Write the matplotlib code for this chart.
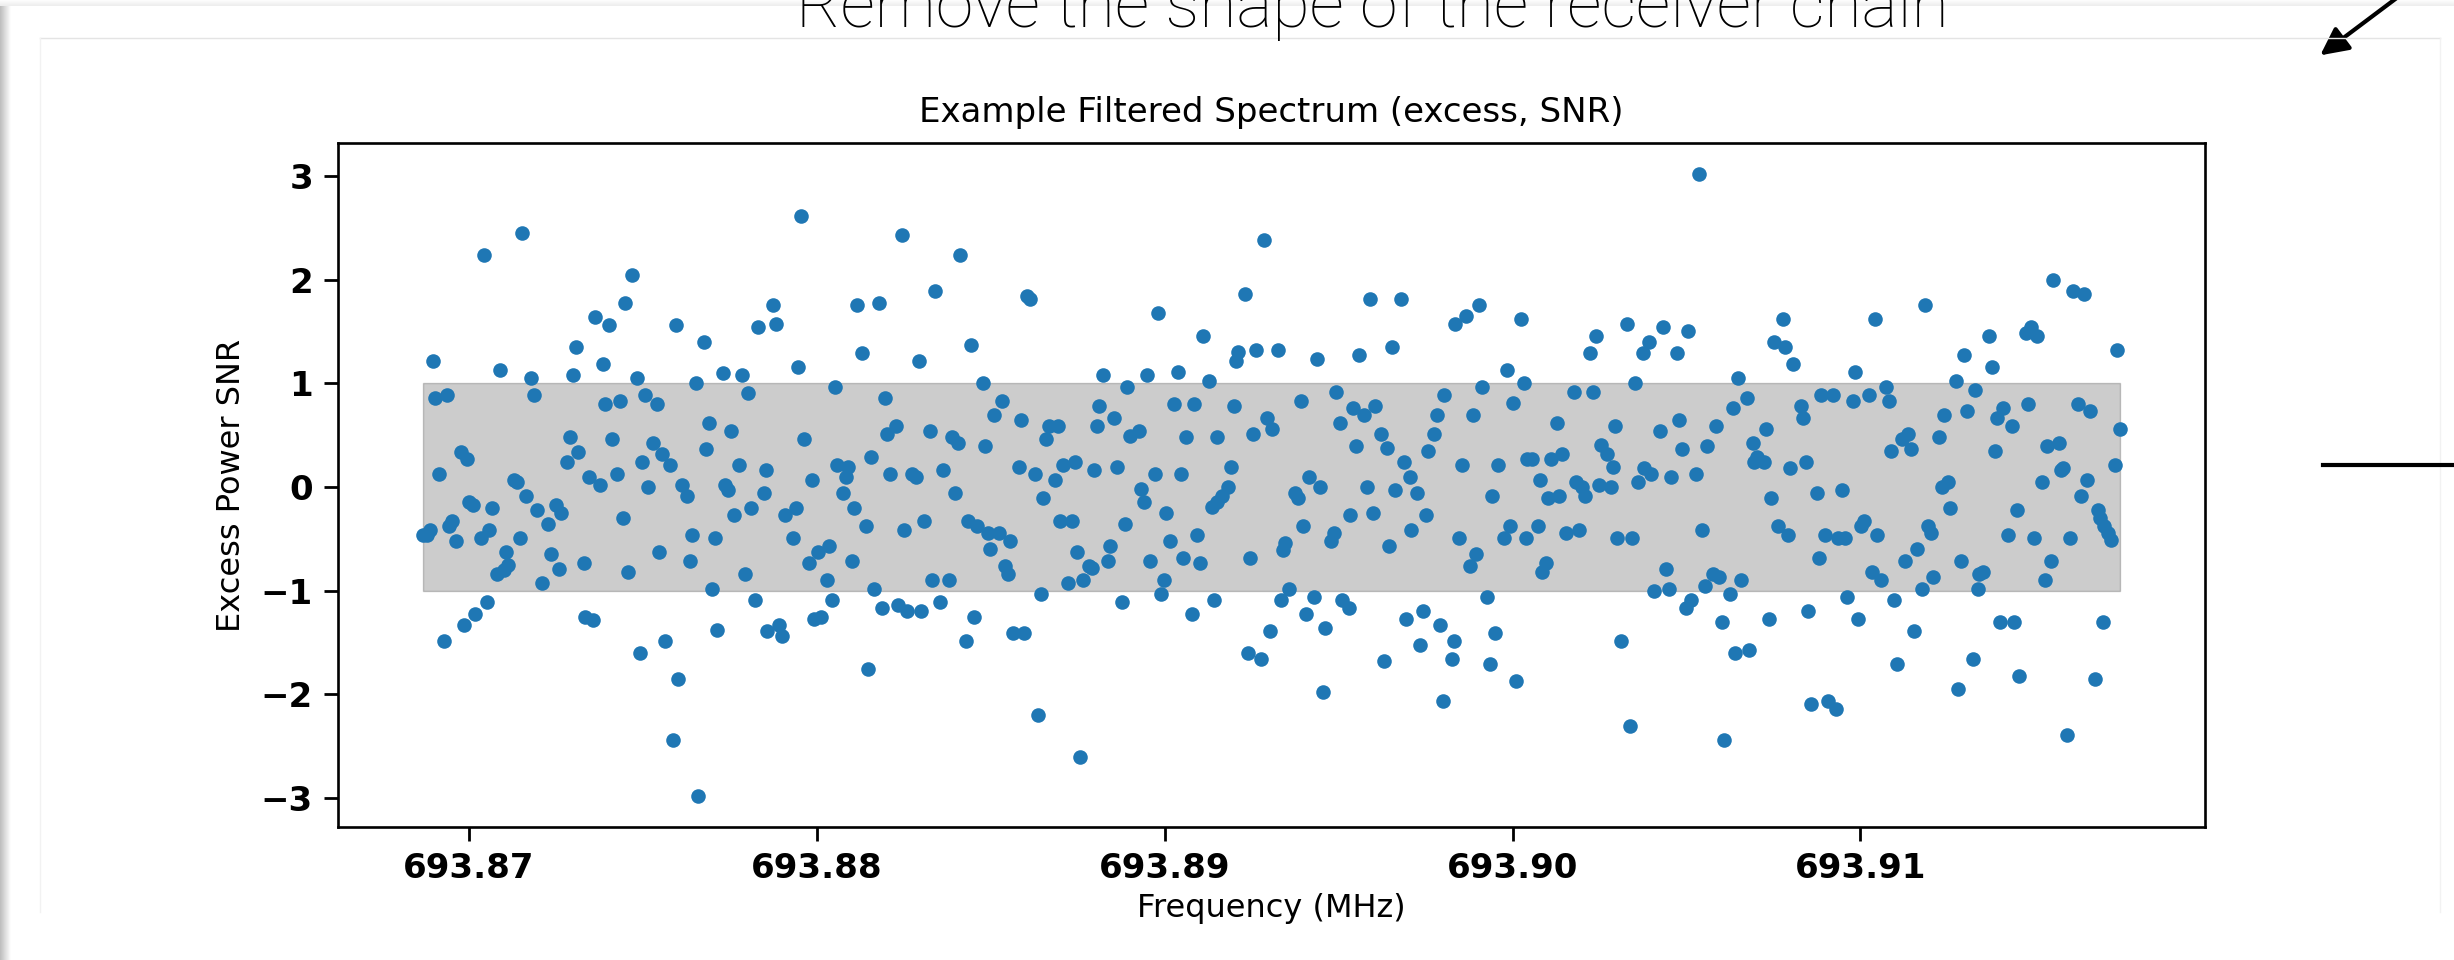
import numpy as np
import matplotlib
matplotlib.use("Agg")
import matplotlib.pyplot as plt
from matplotlib.patches import FancyArrowPatch
from matplotlib.lines import Line2D

# Filtered spectrum: frequency offset (kHz above 693.87 MHz) and excess-power SNR,
# split into five frequency segments
freq_a = [1.53, 0.42, 4.67, 4.49, 3.62, 4.01, 5.94, 8.31, 3.06, 6.74, -1.03, 3.86, 0.90, 2.98,
          1.78, 7.30, 7.86, 4.82, 6.51, 1.86, -0.97, -0.64, 5.05, 3.92, 4.34, 5.39, 8.01, 6.90,
          7.54, 2.89, 4.10, 3.12, 6.82, -0.23, -0.06, 5.30, 5.54, 5.78, 2.82, 4.97, 7.77, -0.88,
          1.29, 1.38, 3.45, 3.77, 4.25, 5.15, 6.11, 6.27, 7.37, 7.45, 1.63, 0.00, 0.10, 0.65,
          1.96, 2.50, 2.65, 2.27, 4.41, 7.62, 8.10, -0.48, -0.57, -1.12, -1.33, -1.20, 0.58, -0.39,
          0.34, 1.45, 6.41, 7.06, 1.05, 2.34, 5.46, 6.35, 3.30, 1.13, 1.00, 0.80, 2.58, 4.58,
          7.94, 2.10, 6.98, 0.50, 0.18, -0.15, 3.34, 3.56, -0.71, 4.91, 5.63, 7.14, 6.02, 5.87,
          6.59]
snr_a = [2.45, 2.24, 2.05, 1.78, 1.64, 1.56, 1.56, 1.54, 1.35, 1.40, 1.22, 1.19, 1.13, 1.08,
         1.05, 1.10, 1.08, 1.05, 1.00, 0.89, 0.86, 0.89, 0.89, 0.80, 0.83, 0.80, 0.91, 0.62,
         0.54, 0.48, 0.46, 0.34, 0.37, 0.34, 0.27, 0.43, 0.32, 0.21, 0.24, 0.24, 0.21, 0.13,
         0.07, 0.05, 0.10, 0.02, 0.13, 0.00, 0.02, -0.09, 0.02, -0.03, -0.09, -0.14, -0.17, -0.20,
         -0.22, -0.17, -0.25, -0.36, -0.30, -0.27, -0.20, -0.33, -0.38, -0.41, -0.46, -0.46, -0.41, -0.52,
         -0.49, -0.49, -0.46, -0.49, -0.63, -0.65, -0.63, -0.71, -0.73, -0.75, -0.80, -0.84, -0.79, -0.82,
         -0.84, -0.93, -0.98, -1.11, -1.22, -1.33, -1.25, -1.28, -1.49, -1.60, -1.49, -1.38, -1.85, -2.44,
         -2.98]

freq_b = [9.55, 12.44, 14.12, 13.40, 8.74, 8.82, 11.14, 11.79, 16.03, 16.13, 11.31, 14.43, 12.93,
          9.47, 10.52, 14.77, 18.22, 11.96, 15.33, 15.08, 15.88, 18.10, 18.05, 12.28, 12.02, 13.24,
          9.63, 13.88, 14.07, 14.84, 16.68, 16.93, 16.59, 11.55, 10.59, 10.90, 10.83, 8.53, 9.87,
          12.11, 12.73, 12.85, 13.63, 15.80, 16.27, 17.07, 17.42, 16.84, 17.96, 8.47, 10.76, 13.96,
          16.51, 9.08, 9.40, 11.07, 11.40, 12.50, 13.07, 14.33, 14.59, 14.93, 15.23, 15.56, 14.98,
          16.99, 17.33, 9.30, 10.35, 10.04, 9.78, 11.00, 10.28, 17.49, 17.81, 17.90, 15.41, 15.48,
          13.31, 13.80, 17.23, 17.65, 11.64, 16.45, 10.43, 11.88, 12.34, 12.58, 13.00, 13.54, 14.52,
          9.92, 10.12, 8.57, 8.91, 8.99, 14.29, 15.65, 15.96, 11.48, 16.37, 17.57, 8.22]
snr_b = [2.62, 2.43, 2.24, 1.89, 1.76, 1.57, 1.76, 1.78, 1.84, 1.81, 1.29, 1.37, 1.22,
         1.16, 0.97, 1.00, 1.08, 0.86, 0.83, 0.70, 0.65, 0.78, 0.59, 0.59, 0.51, 0.54,
         0.46, 0.48, 0.43, 0.40, 0.59, 0.59, 0.46, 0.29, 0.21, 0.19, 0.10, 0.16, 0.07,
         0.13, 0.13, 0.10, 0.16, 0.19, 0.13, 0.21, 0.24, 0.07, 0.16, -0.06, -0.06, -0.06,
         -0.11, -0.27, -0.20, -0.20, -0.38, -0.41, -0.33, -0.33, -0.38, -0.44, -0.44, -0.52, -0.60,
         -0.33, -0.33, -0.49, -0.57, -0.63, -0.73, -0.71, -0.90, -0.63, -0.76, -0.78, -0.76, -0.84,
         -0.90, -0.90, -0.93, -0.90, -0.98, -1.03, -1.09, -1.17, -1.14, -1.20, -1.20, -1.11, -1.25,
         -1.27, -1.25, -1.39, -1.33, -1.44, -1.49, -1.41, -1.41, -1.76, -2.20, -2.60, -1.09]

freq_c = [22.86, 22.30, 19.81, 21.09, 25.89, 26.79, 22.12, 22.05, 22.62, 23.25, 24.38, 25.58, 26.54,
          19.49, 20.38, 21.26, 18.92, 24.93, 23.91, 28.04, 20.28, 20.85, 21.98, 25.40, 25.72, 26.06,
          27.83, 18.53, 22.94, 23.09, 25.03, 27.74, 19.00, 19.25, 20.61, 21.49, 22.53, 26.21, 26.39,
          25.50, 27.58, 26.87, 27.04, 18.63, 19.73, 20.46, 21.90, 24.14, 24.47, 19.33, 19.41, 21.81,
          21.65, 21.36, 21.51, 23.74, 23.84, 25.83, 26.62, 27.26, 20.05, 25.98, 25.34, 27.50, 18.85,
          23.99, 27.09, 20.94, 24.86, 24.78, 20.14, 23.47, 23.40, 26.45, 18.42, 18.38, 19.58, 20.53,
          21.02, 22.45, 19.97, 19.90, 18.78, 20.77, 21.42, 23.56, 23.34, 24.30, 25.10, 25.29, 24.05,
          24.62, 23.02, 22.38, 22.78, 26.94, 27.43, 27.91, 27.33, 26.31, 24.54, 28.00]
snr_c = [2.38, 1.86, 1.68, 1.46, 1.81, 1.81, 1.30, 1.22, 1.32, 1.32, 1.24, 1.27, 1.35,
         1.08, 1.11, 1.02, 0.97, 0.92, 0.83, 0.89, 0.80, 0.80, 0.78, 0.76, 0.70, 0.78,
         0.70, 0.67, 0.67, 0.56, 0.62, 0.51, 0.49, 0.54, 0.48, 0.48, 0.51, 0.51, 0.38,
         0.40, 0.35, 0.24, 0.10, 0.19, 0.13, 0.13, 0.19, 0.10, 0.00, -0.02, -0.14, 0.00,
         -0.09, -0.19, -0.14, -0.06, -0.11, 0.00, -0.03, -0.06, -0.25, -0.25, -0.27, -0.27, -0.36,
         -0.38, -0.41, -0.46, -0.44, -0.52, -0.52, -0.54, -0.61, -0.57, -0.57, -0.71, -0.71, -0.68,
         -0.73, -0.68, -0.90, -1.03, -1.11, -1.22, -1.09, -0.98, -1.09, -1.06, -1.09, -1.17, -1.22,
         -1.36, -1.39, -1.60, -1.66, -1.27, -1.20, -1.33, -1.52, -1.68, -1.98, -2.06]

freq_d = [35.36, 29.04, 28.65, 28.36, 30.23, 37.77, 37.52, 37.84, 38.05, 32.41, 32.24, 33.28, 33.92,
          33.74, 34.33, 35.05, 34.72, 29.85, 30.32, 29.12, 33.52, 36.49, 31.77, 32.32, 30.00, 36.73,
          36.33, 28.87, 31.28, 32.96, 34.80, 34.24, 35.85, 37.29, 32.55, 32.72, 34.88, 35.60, 36.90,
          37.02, 37.23, 36.94, 31.43, 31.11, 30.42, 30.56, 28.55, 29.59, 32.88, 33.78, 33.97, 34.55,
          35.28, 37.97, 30.79, 31.83, 32.01, 32.07, 32.48, 32.82, 33.61, 29.42, 31.02, 31.35, 37.44,
          29.92, 29.75, 30.73, 30.40, 31.53, 31.91, 28.47, 33.01, 33.44, 35.45, 37.62, 37.93, 28.95,
          28.79, 30.96, 30.86, 34.40, 34.07, 34.49, 35.54, 35.76, 35.94, 36.57, 36.25, 29.27, 35.14,
          34.98, 36.01, 37.38, 29.51, 28.31, 28.26, 29.35, 30.09, 33.11, 36.40, 36.81, 33.37, 36.08]
snr_d = [3.02, 1.76, 1.65, 1.57, 1.62, 1.62, 1.40, 1.35, 1.19, 1.46, 1.29, 1.57, 1.40,
         1.29, 1.54, 1.51, 1.29, 1.13, 1.00, 0.97, 1.00, 1.05, 0.92, 0.92, 0.81, 0.86,
         0.76, 0.70, 0.62, 0.59, 0.65, 0.54, 0.59, 0.56, 0.41, 0.32, 0.37, 0.40, 0.43,
         0.29, 0.24, 0.24, 0.32, 0.27, 0.27, 0.27, 0.21, 0.21, 0.19, 0.18, 0.13, 0.10,
         0.13, 0.18, 0.07, 0.05, 0.00, -0.09, 0.02, 0.00, 0.05, -0.09, -0.11, -0.09, -0.11,
         -0.38, -0.49, -0.38, -0.49, -0.44, -0.41, -0.49, -0.49, -0.49, -0.41, -0.38, -0.46, -0.65,
         -0.76, -0.73, -0.82, -0.79, -1.00, -0.98, -0.95, -0.84, -0.87, -0.90, -1.03, -1.06, -1.09,
         -1.17, -1.30, -1.27, -1.41, -1.49, -1.66, -1.71, -1.87, -1.49, -1.60, -1.57, -2.31, -2.44]

freq_e = [45.55, 46.11, 46.42, 41.87, 40.41, 43.70, 42.98, 43.78, 44.76, 44.91, 45.07, 47.38, 39.85,
          42.75, 43.30, 40.73, 40.81, 38.86, 39.20, 39.78, 40.25, 38.29, 38.34, 42.42, 43.06, 44.09,
          43.94, 44.35, 44.83, 46.27, 46.59, 47.47, 41.37, 41.19, 41.45, 40.89, 42.25, 43.86, 45.36,
          45.72, 38.43, 45.82, 45.77, 46.51, 47.31, 45.22, 42.51, 42.34, 42.58, 38.74, 39.46, 46.35,
          44.50, 46.83, 46.89, 47.02, 47.11, 47.21, 40.11, 40.02, 40.49, 38.97, 39.35, 39.56, 41.95,
          42.03, 44.26, 44.98, 46.03, 38.81, 41.28, 41.62, 42.89, 45.47, 40.33, 40.59, 42.10, 41.77,
          43.52, 43.40, 43.37, 45.30, 39.61, 40.97, 38.49, 39.93, 41.53, 44.01, 44.42, 46.99, 43.23,
          41.06, 44.57, 46.75, 42.82, 38.57, 39.06, 39.30, 45.95]
snr_e = [2.00, 1.89, 1.86, 1.76, 1.62, 1.46, 1.27, 1.16, 1.49, 1.54, 1.46, 1.32, 1.11,
         1.02, 0.94, 0.97, 0.83, 0.89, 0.89, 0.83, 0.89, 0.78, 0.67, 0.70, 0.73, 0.76,
         0.67, 0.59, 0.80, 0.80, 0.73, 0.56, 0.51, 0.46, 0.37, 0.35, 0.48, 0.35, 0.40,
         0.43, 0.24, 0.18, 0.16, 0.07, 0.21, 0.05, 0.05, 0.00, -0.20, -0.06, -0.03, -0.09,
         -0.22, -0.22, -0.30, -0.38, -0.44, -0.51, -0.33, -0.38, -0.46, -0.46, -0.49, -0.49, -0.38,
         -0.44, -0.46, -0.49, -0.49, -0.68, -0.71, -0.60, -0.71, -0.71, -0.82, -0.90, -0.87, -0.98,
         -0.82, -0.84, -0.98, -0.90, -1.06, -1.09, -1.20, -1.27, -1.39, -1.30, -1.30, -1.30, -1.66,
         -1.71, -1.82, -1.85, -1.95, -2.09, -2.06, -2.14, -2.39]

base_mhz = 693.87
xticks = [693.87, 693.88, 693.89, 693.90, 693.91]
yticks = [-3, -2, -1, 0, 1, 2, 3]

offset_khz = np.concatenate([freq_a, freq_b, freq_c, freq_d, freq_e])
snr = np.concatenate([snr_a, snr_b, snr_c, snr_d, snr_e])
order = np.argsort(offset_khz)
freq = base_mhz + offset_khz[order] / 1000.0
snr = snr[order]

W, H = 2454, 960
fig = plt.figure(figsize=(W / 100, H / 100), dpi=100)
fig.patch.set_facecolor("white")

# slide shadow on the left and top edges
shade = fig.add_axes([0, 0, 11 / W, 1])
shade.imshow(np.linspace(0.74, 1.0, 32)[None, :], cmap="gray", vmin=0, vmax=1,
             aspect="auto", extent=[0, 1, 0, 1])
shade.set_axis_off()
top = fig.add_axes([0, 1 - 6 / H, 1, 6 / H])
top.imshow(np.linspace(0.99, 0.93, 8)[:, None], cmap="gray", vmin=0, vmax=1,
           aspect="auto", extent=[0, 1, 0, 1])
top.set_axis_off()

# faint edges of the content box
fig.add_artist(Line2D([40 / W, 2440 / W], [1 - 38 / H] * 2, transform=fig.transFigure,
                      color="#e4e4e4", linewidth=1.0))
for xe in (40, 2440):
    fig.add_artist(Line2D([xe / W] * 2, [1 - 38 / H, 1 - 912 / H], transform=fig.transFigure,
                          color="#f2f2f2", linewidth=1.0))

# slide heading, cut off by the top of the frame
fig.text(1372 / W, 1 - 27 / H, "Remove the shape of the receiver chain",
         ha="center", va="baseline", fontsize=49, family="Roboto", weight="light",
         color="black")

# annotation arrow and connector line
fig.add_artist(FancyArrowPatch((2402 / W, 1 + 6 / H), (2318 / W, 1 - 57 / H),
                               transform=fig.transFigure, arrowstyle="-|>",
                               mutation_scale=42, linewidth=3.0, color="black"))
fig.add_artist(Line2D([2323 / W, 1.0], [1 - 465 / H, 1 - 465 / H],
                      transform=fig.transFigure, color="black", linewidth=3.0))

ax = fig.add_axes([338 / W, 1 - 827 / H, (2205 - 338) / W, (827 - 143) / H])
ax.fill_between(freq, -1, 1, color="k", alpha=0.2)
ax.scatter(freq, snr, s=110, color="#1f77b4", zorder=3, linewidths=0)

ax.set_xticks(xticks, labels=[f"{t:.2f}" for t in xticks], fontweight="bold")
ax.set_yticks(yticks, labels=[f"{t}".replace("-", "\u2212") for t in yticks], fontweight="bold")
ax.tick_params(labelsize=24.5, length=10, width=2, pad=8)
for sp in ax.spines.values():
    sp.set_linewidth(1.9)

ax.set_title("Example Filtered Spectrum (excess, SNR)", fontsize=24.5, pad=15)
ax.set_xlabel("Frequency (MHz)", fontsize=23, labelpad=6)
ax.set_ylabel("Excess Power SNR", fontsize=23, labelpad=10)

fig.savefig("out.png", dpi=100)
